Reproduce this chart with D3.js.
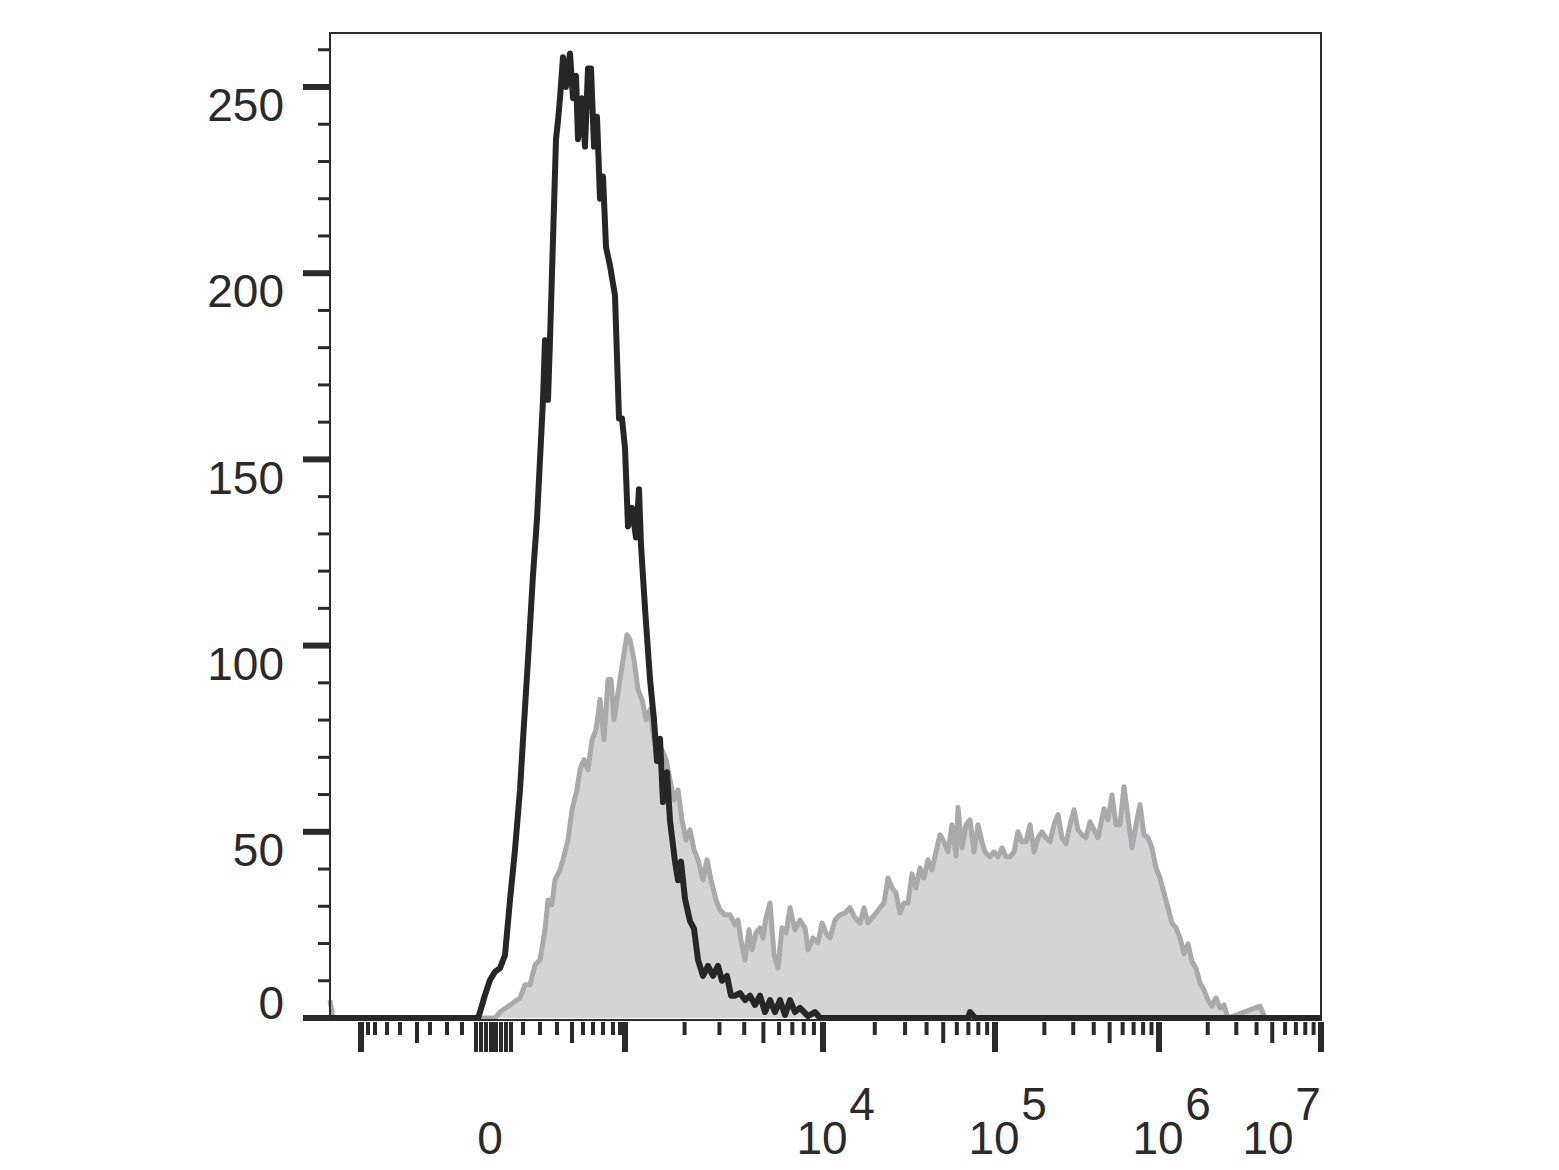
<!DOCTYPE html>
<html>
<head>
<meta charset="utf-8">
<script src="https://cdn.jsdelivr.net/npm/d3@7"></script>
<style>
  body { margin: 0; background: #fff; }
  text { font-family: "Liberation Sans", Arial, sans-serif; fill: #2a2a2a; }
</style>
</head>
<body>
<svg id="chart"></svg>
<script>
// fluorescence channel (display units, 0..991) and event counts
const controlX = [0,148,150,155,160,165,170,175,180,185,190,193,198,203,207,210,213,215,218,220,223,226,228,230,233,236,238,240,243,246,248,252,255,258,261,264,267,270,273,276,280,285,289,292,295,298,302,306,309,311,315,320,324,327,330,333,337,340,345,348,351,355,360,364,368,373,378,383,388,392,397,401,405,410,415,420,425,430,435,440,445,450,455,460,465,470,478,485,490,495,638,640,645,991];
const controlY = [0,0,1.6,6.2,10.2,12.4,13.4,16.9,31.7,45.2,61.3,74.7,96.2,119,134,150,166,182,166,182,209,236,241,247,258,250,255,259,247,253,236,247,234,255,255,234,242,220,226,207,202,194,161,161,153,132,137,129,142,127,110,91,80,69,75,58,66,53,42,37,42,32,26,24,15.6,11.3,14,11.3,14,10,11.3,6,6,6.7,4.8,6,3.5,6,1.6,4.8,1.6,4.8,0.8,4.8,1.6,2.7,0.5,1.6,0,0,0,1.6,0,0];

const stainedX = [0,3,150,165,170,180,190,195,200,205,210,215,218,222,225,230,233,238,242,247,250,254,258,262,266,270,274,278,281,284,287,290,293,297,300,304,308,312,316,320,324,328,332,336,340,344,348,352,356,360,364,368,373,377,381,386,390,395,400,405,408,411,415,419,422,426,430,433,436,440,444,448,452,456,460,465,470,475,478,483,488,492,496,500,505,510,515,520,525,530,534,538,542,546,550,554,558,562,566,570,574,578,582,586,590,594,598,602,606,610,614,618,622,626,628,632,636,640,644,648,652,655,660,664,668,672,676,680,684,688,692,696,700,704,708,712,716,720,724,728,732,736,740,744,748,752,756,760,764,768,774,778,782,786,790,794,798,802,806,810,814,818,822,826,830,834,838,842,846,850,854,858,862,866,870,874,878,882,886,890,894,898,930,935,991];
const stainedY = [4.8,0,0,0,1.6,3.5,5.4,8.9,8.9,14.2,15.6,23.7,31.7,30.4,37.1,39.8,42.5,47.8,55.9,61.3,66.7,69.4,66.7,74.7,77.4,85.5,74.7,90.9,90.9,80.1,85.5,90.9,96.2,102.9,101.6,96.2,88.2,85.5,80.1,82.8,74.7,69.4,72,69.4,64,58.6,61.3,53.2,47.8,50.5,45.2,42.5,37.1,42.5,37.1,31.7,29,27.7,27.7,25,26.3,20.9,15.6,23.7,18.3,22.8,24.2,21.5,26.9,30.9,17.2,13.4,24.2,22.8,29.6,23.7,26.3,24.2,18.3,21.5,20.2,25.5,22.8,21.5,26.3,27.7,28.2,29.6,26.9,25.5,29.6,25.5,26.9,28.2,29.6,30.9,37.6,34.9,33.6,28.2,30.9,30.9,38.7,34.9,40.3,37.6,42.5,39.8,44.6,49.2,47.3,44.6,51.9,43.5,56.5,45.7,51.9,53.2,44.6,51.9,47.3,44.6,43.3,44.6,43.3,45.7,43.3,43.3,44.6,50,47.3,47.3,51.9,44.6,48.4,50,48.4,47.3,51.9,54.6,48.4,46.8,51.9,55.9,50.5,49.2,48.4,52.7,50.5,48.4,56.2,53.2,59.9,51.9,51.9,62.1,53.8,45.7,51.9,57.3,49.2,48.4,45.7,40.3,37.6,33.6,29.6,25.5,24.2,21.5,17.2,19.9,15.1,13.4,9.4,7.5,4.8,3.2,5.4,2.7,3.5,0,3.2,0,0];

// axis ticks (channel positions)
const yTicks = [0, 50, 100, 150, 200, 250];
const xMajor = [31, 163, 295, 493, 665, 829, 991];
const xLabels = [{ch: 163, base: "0", exp: ""}, {ch: 493, base: "10", exp: "4"},
                 {ch: 665, base: "10", exp: "5"}, {ch: 829, base: "10", exp: "6"},
                 {ch: 991, base: "10", exp: "7"}];
const xLinMinor = [38,45,57,70,100,117,132,193,210,227,253,263,273,283,290];
const xLinMid = [87, 242];
const xZeroBlock = [146,151,156,161,166,171,176,181];
const logDecades = [[295,493],[493,665],[665,829],[829,991]];

const width = 1559, height = 1170;
const margin = {left: 330, right: 238, top: 33, bottom: 150};

const svg = d3.select("#chart").attr("width", width).attr("height", height);

const x = d3.scaleLinear().domain([0, 991]).range([margin.left, width - margin.right]);
const y = d3.scaleLinear().domain([0, 250]).range([1018, 87]);

const stained = stainedX.map((v, i) => [v, stainedY[i]]);
const control = controlX.map((v, i) => [v, controlY[i]]);

svg.append("path")
    .datum(stained)
    .attr("d", d3.area().x(d => x(d[0])).y0(y(0)).y1(d => y(d[1])))
    .attr("fill", "#d4d4d4");
svg.append("path")
    .datum(stained)
    .attr("d", d3.line().x(d => x(d[0])).y(d => y(d[1])))
    .attr("fill", "none").attr("stroke", "#a9a9ab").attr("stroke-width", 5)
    .attr("stroke-linejoin", "round");
svg.append("path")
    .datum(control)
    .attr("d", d3.line().x(d => x(d[0])).y(d => y(d[1])))
    .attr("fill", "none").attr("stroke", "#262626").attr("stroke-width", 6)
    .attr("stroke-linejoin", "round");

// frame
svg.append("rect")
    .attr("x", x(0)).attr("y", margin.top)
    .attr("width", x(991) - x(0)).attr("height", 1020 - margin.top)
    .attr("fill", "none").attr("stroke", "#2a2a2a").attr("stroke-width", 2);

// y axis minor/major ticks
const yMinor = d3.range(0, 261, 10);
svg.append("g").selectAll("line").data(yMinor).join("line")
    .attr("x1", d => yTicks.includes(d) ? 303 : 318).attr("x2", 330)
    .attr("y1", d => y(d)).attr("y2", d => y(d))
    .attr("stroke", "#2a2a2a").attr("stroke-width", d => yTicks.includes(d) ? 6 : 3);
svg.append("g").selectAll("text").data(yTicks).join("text")
    .attr("x", 284).attr("y", d => y(d) + (d === 0 ? -15 : 18))
    .attr("dy", "0.35em").attr("text-anchor", "end")
    .attr("font-size", 46).text(d => d);

// x axis ticks
const tickY = 1022;
const xt = svg.append("g").attr("stroke", "#2a2a2a");
function tick(ch, len, w) {
  xt.append("line").attr("x1", x(ch)).attr("x2", x(ch))
    .attr("y1", tickY).attr("y2", tickY + len).attr("stroke-width", w);
}
xMajor.forEach(c => tick(c, 30, 6));
xLinMinor.forEach(c => tick(c, 13, 4));
xLinMid.forEach(c => tick(c, 21, 4));
xZeroBlock.forEach(c => tick(c, 30, 4));
logDecades.forEach(([a, b]) => {
  d3.range(2, 10).forEach(k => {
    const c = a + (b - a) * Math.log10(k);
    tick(c, k === 5 ? 21 : 13, 4);
  });
});

// x labels
const lab = svg.append("g");
xLabels.forEach(l => {
  const cx = l.ch === 991 ? 1268 : x(l.ch) - 1;
  const t = lab.append("text").attr("y", 1154).attr("font-size", 46).attr("text-anchor", "middle");
  if (l.exp) {
    t.attr("x", cx).text(l.base);
    lab.append("text").attr("x", cx + 40).attr("y", 1120).attr("font-size", 46)
      .attr("text-anchor", "middle").text(l.exp);
  } else {
    t.attr("x", cx - 2).text(l.base);
  }
});
</script>
</body>
</html>
